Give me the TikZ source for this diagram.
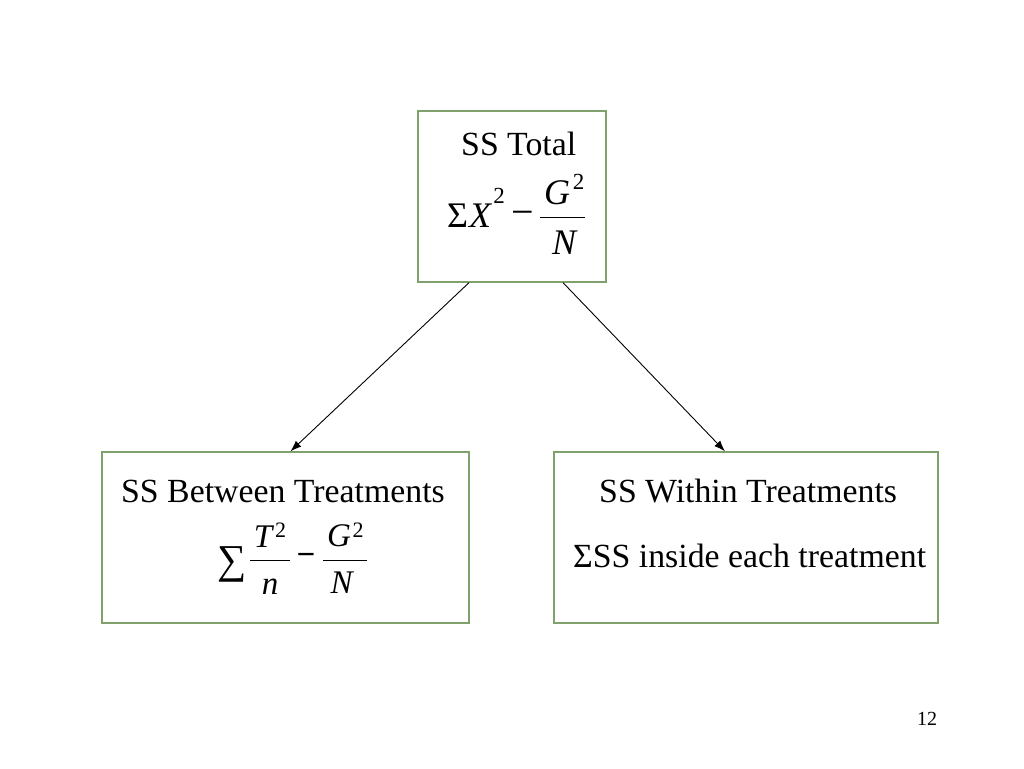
\documentclass[tikz,border=0pt]{standalone}
\usepackage{fontspec}
\setmainfont{Liberation Serif}
\usetikzlibrary{arrows.meta}
\definecolor{boxgreen}{RGB}{128,160,108}
\tikzset{
  box/.style={draw=boxgreen, line width=1.3pt, inner sep=0pt, fill=none},
  txt/.style={inner sep=0pt, anchor=base west, font=\fontsize{33.8}{40}\selectfont},
  glyph/.style={inner sep=0pt, anchor=center, font=\fontsize{36}{40}\selectfont},
  mit/.style={inner sep=0pt, anchor=center, font=\fontsize{36}{40}\selectfont\itshape},
  mits/.style={inner sep=0pt, anchor=center, font=\fontsize{33}{40}\selectfont\itshape},
  sup/.style={inner sep=0pt, anchor=center, font=\fontsize{23}{26}\selectfont},
  bar/.style={line width=0.8pt},
  arr/.style={line width=0.9pt, -{Latex[length=11pt,width=8pt]}},
}
\begin{document}
\begin{tikzpicture}[x=1pt,y=-1pt]
\useasboundingbox (0,0) rectangle (1024,768);
% boxes
\node[box, minimum width=188pt, minimum height=171pt] (top) at (512,196.5) {};
\node[box, minimum width=367pt, minimum height=171pt] (left) at (285.5,537.5) {};
\node[box, minimum width=384pt, minimum height=171pt] (right) at (746,537.5) {};
% top box content
\node[txt] (ttl) at (461,155) {SS Total};
\node[glyph] (tsig) at (457.5,215.5) {Σ};
\node[mit] (tX) at (480,215.5) {X};
\node[sup] (tX2) at (499,196) {2};
\node[glyph, font=\fontsize{40}{44}\selectfont] (tmin) at (523,218) {−};
\node[mit] (tG) at (557,192.5) {G};
\node[sup] (tG2) at (578.5,182) {2};
\draw[bar] (540,217) -- (585,217);
\node[mit] (tN) at (564,243) {N};
% left box content
\node[txt] (lttl) at (121,502) {SS Between Treatments};
\node[glyph, font=\fontsize{41}{46}\selectfont] (lsig) at (232,564) {∑};
\node[mits] (lT) at (263,537) {T};
\node[sup, font=\fontsize{22}{26}\selectfont] (lT2) at (280.5,530) {2};
\draw[bar] (250,560) -- (290,560);
\node[mits] (ln) at (270,586.5) {n};
\node[glyph, font=\fontsize{33}{40}\bfseries] (lmin) at (306,559) {−};
\node[mits] (lG) at (339,536) {G};
\node[sup, font=\fontsize{22}{26}\selectfont] (lG2) at (358,530) {2};
\draw[bar] (323,560) -- (367,560);
\node[mits] (lN) at (341.5,583) {N};
% right box content
\node[txt] (rttl) at (599,502) {SS Within Treatments};
\node[txt] (rl2) at (573,567) {ΣSS inside each treatment};
% arrows
\draw[arr] ([xshift=-43pt]top.south) -- ([xshift=5pt]left.north);
\draw[arr] ([xshift=51pt]top.south) -- ([xshift=-21pt]right.north);
% page number
\node[inner sep=0pt, anchor=base west, font=\fontsize{20}{24}\selectfont] (pg) at (917,725) {12};
\end{tikzpicture}
\end{document}
